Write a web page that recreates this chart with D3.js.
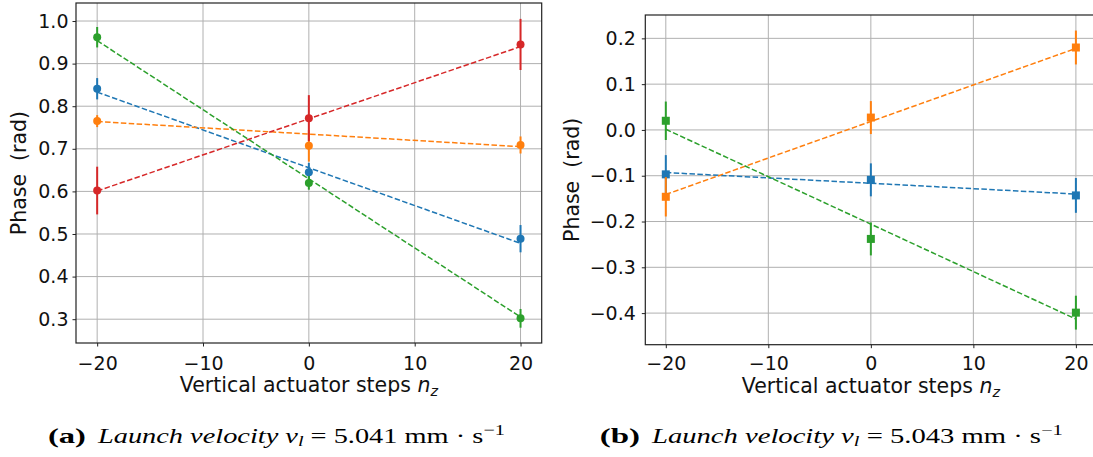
<!DOCTYPE html>
<html><head><meta charset="utf-8">
<script src="https://cdn.jsdelivr.net/npm/d3@7"></script>
<style>body{margin:0;background:#fff} svg{display:block}</style>
</head><body>
<svg id="chart" width="1093" height="457"></svg>
<script>
// ---------- data ----------
const steps = [-20, 0, 20];
const fitSteps = [-20, 20];
const xTicks = [-20, -10, 0, 10, 20];
const colors = ["#1f77b4", "#ff7f0e", "#2ca02c", "#d62728"];

// panel (a)
const aBlue = [0.841, 0.645, 0.489];
const aBlueErr = [0.025, 0.022, 0.032];
const aOrange = [0.765, 0.707, 0.709];
const aOrangeErr = [0.014, 0.037, 0.020];
const aGreen = [0.962, 0.620, 0.302];
const aGreenErr = [0.024, 0.016, 0.022];
const aRed = [0.602, 0.772, 0.945];
const aRedErr = [0.056, 0.054, 0.060];
const aFitBlue = [0.833, 0.478];
const aFitOrange = [0.764, 0.705];
const aFitGreen = [0.954, 0.305];
const aFitRed = [0.601, 0.940];
const aYTicks = [0.3, 0.4, 0.5, 0.6, 0.7, 0.8, 0.9, 1.0];

// panel (b)
const bBlue = [-0.097, -0.109, -0.143];
const bBlueErr = [0.042, 0.036, 0.038];
const bOrange = [-0.146, 0.027, 0.180];
const bOrangeErr = [0.043, 0.036, 0.037];
const bGreen = [0.020, -0.238, -0.399];
const bGreenErr = [0.042, 0.036, 0.037];
const bFitBlue = [-0.093, -0.140];
const bFitOrange = [-0.141, 0.178];
const bFitGreen = [0.0015, -0.413];
const bYTicks = [-0.4, -0.3, -0.2, -0.1, 0.0, 0.1, 0.2];

const xLabel = "Vertical actuator steps ";
const yLabel = "Phase\u00a0\u00a0(rad)";

// ---------- drawing ----------
const svg = d3.select("#chart");
const FONT = "DejaVu Sans, sans-serif";

function panel(cfg) {
  const x = d3.scaleLinear().domain([-22, 22]).range([cfg.left, cfg.right]);
  const y = d3.scaleLinear().domain(cfg.yDomain).range([cfg.bottom, cfg.top]);
  const g = svg.append("g");

  // grid
  g.selectAll(".gx").data(xTicks).join("line")
    .attr("x1", d => x(d)).attr("x2", d => x(d))
    .attr("y1", cfg.top).attr("y2", cfg.bottom)
    .attr("stroke", "#b0b0b0").attr("stroke-width", 1);
  g.selectAll(".gy").data(cfg.yTicks).join("line")
    .attr("x1", cfg.left).attr("x2", cfg.right)
    .attr("y1", d => y(d)).attr("y2", d => y(d))
    .attr("stroke", "#b0b0b0").attr("stroke-width", 1);

  // series
  cfg.series.forEach(s => {
    const pts = steps.map((st, i) => ({x: st, y: s.vals[i], e: s.err[i]}));
    g.selectAll(null).data(pts).join("line")
      .attr("x1", d => x(d.x)).attr("x2", d => x(d.x))
      .attr("y1", d => y(d.y - d.e)).attr("y2", d => y(d.y + d.e))
      .attr("stroke", s.color).attr("stroke-width", 2);
    const line = d3.line().x(d => x(d[0])).y(d => y(d[1]));
    g.append("path").datum(fitSteps.map((st, i) => [st, s.fit[i]]))
      .attr("d", line).attr("fill", "none").attr("stroke", s.color)
      .attr("stroke-width", 1.5).attr("stroke-dasharray", "5.5,2.4");
    if (cfg.marker === "circle") {
      g.selectAll(null).data(pts).join("circle")
        .attr("cx", d => x(d.x)).attr("cy", d => y(d.y)).attr("r", 4)
        .attr("fill", s.color);
    } else {
      const sz = 8;
      g.selectAll(null).data(pts).join("rect")
        .attr("x", d => x(d.x) - sz / 2).attr("y", d => y(d.y) - sz / 2)
        .attr("width", sz).attr("height", sz).attr("fill", s.color);
    }
  });

  // spines
  g.append("rect").attr("x", cfg.left).attr("y", cfg.top)
    .attr("width", cfg.right - cfg.left).attr("height", cfg.bottom - cfg.top)
    .attr("fill", "none").attr("stroke", "#222").attr("stroke-width", 1.2);

  // axes ticks
  const fmt = d3.format(".1f");
  const xAxis = d3.axisBottom(x).tickValues(xTicks).tickSize(3.5).tickPadding(5)
    .tickFormat(d3.format("d"));
  const ax = g.append("g").attr("transform", `translate(0,${cfg.bottom})`).call(xAxis);
  ax.select(".domain").remove();
  ax.selectAll("line").attr("stroke", "#222");
  ax.selectAll("text").attr("font-family", FONT).attr("font-size", cfg.tickSize).attr("fill", "#111")
    .attr("dy", null).attr("y", cfg.xTickBase - cfg.bottom);

  const yAxis = d3.axisLeft(y).tickValues(cfg.yTicks).tickSize(3.5).tickPadding(cfg.yPad)
    .tickFormat(fmt);
  const ay = g.append("g").attr("transform", `translate(${cfg.left},0)`).call(yAxis);
  ay.select(".domain").remove();
  ay.selectAll("line").attr("stroke", "#222");
  ay.selectAll("text").attr("font-family", FONT).attr("font-size", cfg.tickSize).attr("fill", "#111");

  // axis labels
  const xl = g.append("text").attr("x", (cfg.left + cfg.right) / 2).attr("y", cfg.xLabelBase)
    .attr("text-anchor", "middle").attr("font-family", FONT).attr("font-size", cfg.labelSize).attr("fill", "#111");
  xl.append("tspan").text(xLabel);
  xl.append("tspan").attr("font-style", "italic").text("n");
  xl.append("tspan").attr("font-style", "italic").attr("font-size", cfg.labelSize * 0.7).attr("dy", 4).text("z");

  g.append("text")
    .attr("transform", `translate(${cfg.yLabelX},${(cfg.top + cfg.bottom) / 2}) rotate(-90)`)
    .attr("text-anchor", "middle").attr("dominant-baseline", "central")
    .attr("font-family", FONT).attr("font-size", cfg.labelSize).attr("fill", "#111")
    .text(yLabel);
}

panel({
  left: 76, right: 541.7, top: 3, bottom: 343,
  yDomain: [0.2441, 1.0423], yTicks: aYTicks, marker: "circle",
  tickSize: 19, labelSize: 20.5, yPad: 4, xTickBase: 370, xLabelBase: 392, yLabelX: 19,
  series: [
    {vals: aBlue, err: aBlueErr, fit: aFitBlue, color: colors[0]},
    {vals: aOrange, err: aOrangeErr, fit: aFitOrange, color: colors[1]},
    {vals: aGreen, err: aGreenErr, fit: aFitGreen, color: colors[2]},
    {vals: aRed, err: aRedErr, fit: aFitRed, color: colors[3]}
  ]
});

panel({
  left: 645.3, right: 1096.4, top: 15, bottom: 344.7,
  yDomain: [-0.469, 0.251], yTicks: bYTicks, marker: "square",
  tickSize: 19, labelSize: 20.5, yPad: 6, xTickBase: 370.5, xLabelBase: 393, yLabelX: 572,
  series: [
    {vals: bBlue, err: bBlueErr, fit: bFitBlue, color: colors[0]},
    {vals: bOrange, err: bOrangeErr, fit: bFitOrange, color: colors[1]},
    {vals: bGreen, err: bGreenErr, fit: bFitGreen, color: colors[2]}
  ]
});

// ---------- captions ----------
const captions = [
  {tag: "(a)", speed: "5.041", x0: 98, x1: 505},
  {tag: "(b)", speed: "5.043", x0: 652, x1: 1063}
];
const SERIF = "Liberation Serif, DejaVu Serif, serif";
function fitWidth(t, x0, x1) {
  const w = t.node().getComputedTextLength();
  const sx = (x1 - x0) / w;
  t.attr("transform", `translate(${x0},0) scale(${sx},1) translate(${-x0},0)`);
  return sx;
}
captions.forEach(c => {
  const t = svg.append("text").attr("x", c.x0).attr("y", 443)
    .attr("font-family", SERIF).attr("font-size", 21).attr("fill", "#000");
  t.append("tspan").attr("font-style", "italic").text("Launch velocity ");
  t.append("tspan").attr("font-style", "italic").text("v");
  t.append("tspan").attr("font-style", "italic").attr("font-size", 15).attr("dy", 3).text("l");
  t.append("tspan").attr("dy", -3).text(" = " + c.speed + " mm \u00b7 s");
  t.append("tspan").attr("font-size", 15).attr("dy", -8).text("\u22121");
  const sx = fitWidth(t, c.x0, c.x1);
  // bold tag placed just before the caption text, same horizontal stretch
  const tg = svg.append("text").attr("y", 443)
    .attr("font-family", SERIF).attr("font-size", 22).attr("font-weight", "bold").attr("fill", "#000")
    .text(c.tag);
  const tw = tg.node().getComputedTextLength() * sx * 1.1;
  const tx1 = c.x0 - 12, tx0 = tx1 - tw;
  tg.attr("x", tx0);
  fitWidth(tg, tx0, tx1);
});
</script>
</body></html>
